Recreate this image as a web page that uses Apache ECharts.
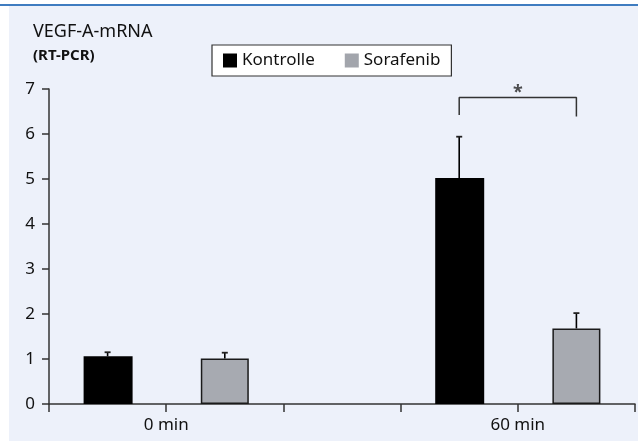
<!DOCTYPE html>
<html>
<head>
<meta charset="utf-8">
<script src="https://cdn.jsdelivr.net/npm/echarts@6/dist/echarts.min.js"></script>
<style>
html,body{margin:0;padding:0;background:#fff;}
#c{width:638px;height:448px;}
</style>
</head>
<body>
<div id="c"></div>
<script>
// ---- data ----
var categories = ['0 min', '60 min'];
var seriesNames = ['Kontrolle', 'Sorafenib'];
var kontrolle = [1.06, 5.02];
var kontrolleErr = [0.09, 0.92];
var sorafenib = [1.01, 1.68];
var sorafenibErr = [0.13, 0.34];
var yTicks = [0, 1, 2, 3, 4, 5, 6, 7];
var groupPos = [1, 4];           // axis position of each time point
var bracketY = [6.42, 6.81, 6.81, 6.39]; // significance bracket levels
var sigLabel = '*';

var FONT = '"Noto Sans", "Open Sans", sans-serif';
var chart = echarts.init(document.getElementById('c'), null, {renderer: 'canvas'});

function pts(vals, off) {
  return vals.map(function (v, i) { return [groupPos[i] + off, v]; });
}
function errPts(vals, errs, off) {
  return vals.map(function (v, i) { return [groupPos[i] + off, v, errs[i]]; });
}
function errRender(params, api) {
  var x = api.value(0), v = api.value(1), e = api.value(2);
  var p0 = api.coord([x, v]);
  var p1 = api.coord([x, v + e]);
  return {
    type: 'group',
    children: [
      {type: 'line', shape: {x1: p0[0], y1: p0[1], x2: p1[0], y2: p1[1]}, style: {stroke: '#000', lineWidth: 1.6}},
      {type: 'line', shape: {x1: p1[0] - 3, y1: p1[1], x2: p1[0] + 3, y2: p1[1]}, style: {stroke: '#222', lineWidth: 1.8}}
    ]
  };
}

var bx1 = groupPos[1] - 0.5, bx2 = groupPos[1] + 0.5;
var bracketData = [[bx1, bracketY[0]], [bx1, bracketY[1]], [bx2, bracketY[2]], [bx2, bracketY[3]]];

var option = {
  animation: false,
  backgroundColor: '#fff',
  graphic: [
    {type: 'rect', z: -10, silent: true, shape: {x: 9, y: 6, width: 629, height: 435}, style: {fill: '#edf1fa'}},
    {type: 'line', z: -9, silent: true, shape: {x1: 0, y1: 5, x2: 638, y2: 5}, style: {stroke: '#3f7cc0', lineWidth: 2}}
  ],
  title: {
    text: 'VEGF-A-mRNA',
    subtext: '(RT-PCR)',
    left: 33,
    top: 23,
    itemGap: 7,
    padding: 0,
    textStyle: {fontFamily: FONT, fontSize: 18, fontWeight: 'normal', color: '#111'},
    subtextStyle: {fontFamily: FONT, fontSize: 15, fontWeight: 'bold', color: '#111'}
  },
  legend: {
    left: 212,
    top: 45,
    padding: [7, 11, 7, 11],
    itemGap: 30,
    itemWidth: 14,
    itemHeight: 14,
    backgroundColor: '#fff',
    borderColor: '#333',
    borderWidth: 1.2,
    borderRadius: 0,
    textStyle: {fontFamily: FONT, fontSize: 17, color: '#111'},
    data: [
      {name: seriesNames[0], icon: 'rect', itemStyle: {color: '#000', borderWidth: 0}},
      {name: seriesNames[1], icon: 'rect', itemStyle: {color: '#a2a5ac', borderWidth: 0}}
    ]
  },
  grid: {left: 49, right: 2, top: 89, bottom: 44, containLabel: false},
  xAxis: {
    type: 'value',
    min: 0, max: 5, interval: 1,
    splitLine: {show: false},
    axisLine: {show: true, lineStyle: {color: '#333', width: 1.5}},
    axisTick: {show: true, length: 8, lineStyle: {color: '#333', width: 1.5}},
    axisLabel: {
      margin: 13,
      fontFamily: FONT, fontSize: 17, color: '#111',
      formatter: function (v) {
        var i = groupPos.indexOf(v);
        return i >= 0 ? categories[i] : '';
      }
    }
  },
  yAxis: {
    type: 'value',
    min: yTicks[0], max: yTicks[yTicks.length - 1], interval: 1,
    splitLine: {show: false},
    axisLine: {show: true, lineStyle: {color: '#333', width: 1.5}},
    axisTick: {show: true, length: 7, lineStyle: {color: '#333', width: 1.5}},
    axisLabel: {margin: 14, fontFamily: FONT, fontSize: 17, color: '#111'}
  },
  series: [
    {
      name: seriesNames[0], type: 'bar', barWidth: 49, barGap: '-100%',
      itemStyle: {color: '#000'},
      data: pts(kontrolle, -0.5)
    },
    {
      name: seriesNames[1], type: 'bar', barWidth: 48, barGap: '-100%',
      itemStyle: {color: '#a7aab1', borderColor: '#1a1a1a', borderWidth: 1.5},
      data: pts(sorafenib, 0.5)
    },
    {
      type: 'custom', renderItem: errRender, z: 5,
      encode: {x: 0, y: 1},
      data: errPts(kontrolle, kontrolleErr, -0.5).concat(errPts(sorafenib, sorafenibErr, 0.5))
    },
    {
      type: 'line', symbol: 'none', z: 5,
      lineStyle: {color: '#333', width: 1.5},
      data: bracketData
    },
    {
      type: 'scatter', symbolSize: 0, z: 5,
      label: {show: true, position: 'top', distance: -4, formatter: sigLabel, fontFamily: FONT, fontSize: 18, fontWeight: 'bold', color: '#222'},
      data: [[(bx1 + bx2) / 2, bracketY[1]]]
    }
  ]
};
chart.setOption(option);
</script>
</body>
</html>
